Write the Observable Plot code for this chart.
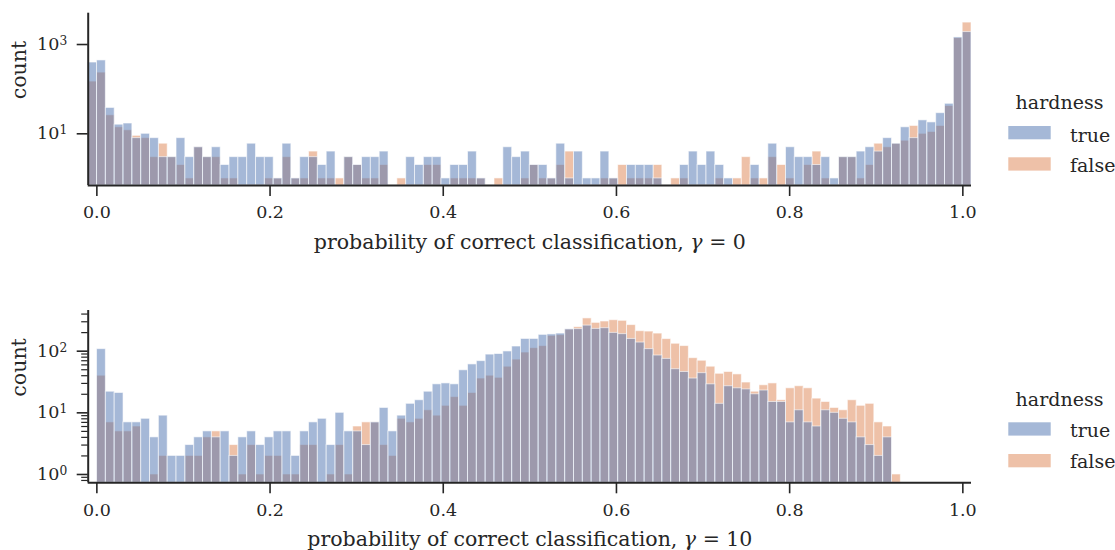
<!DOCTYPE html>
<html><head><meta charset="utf-8">
<script src="https://cdn.jsdelivr.net/npm/d3@7"></script>
<script src="https://cdn.jsdelivr.net/npm/@observablehq/plot@0.6"></script>
<style>
body{margin:0;background:#fff;}
#wrap{position:relative;width:1115px;height:550px;overflow:hidden;font-family:"DejaVu Serif",serif;color:#262626}
#wrap svg{position:absolute;overflow:visible}
</style></head><body><div id="wrap"></div>
<script>
// ---- data ----
const binStart = -0.01;     // left edge of first bin
const binWidth = 0.0102;    // 100 bins from -0.01 to 1.01
const hueLevels = ["true", "false"];
const hueColors = ["#4c72b0", "#dd8452"];

// gamma = 0 panel (counts per bin, 100 bins)
const topTrue = [395,440,38,16,17,8,10,8,3,3, 8,3,5,3,5,2,3,3,6,3, 3,1,6,1,3,3,2,4,0,3,
  2,3,3,4,0,0,3,2,3,3, 1,2,2,4,1,0,0,5,3,4, 2,2,1,6,1,4,1,1,4,1, 0,2,2,2,1,0,0,2,4,2,
  4,2,1,0,0,2,0,6,0,5, 3,3,2,3,1,3,3,4,5,4, 8,6,14,8,20,18,29,47,1440,1900];
const topFalse = [148,235,26,14,12,9,8,3,6,3, 2,1,5,3,3,1,1,0,0,0, 1,1,3,1,1,4,1,1,1,3,
  2,1,1,2,0,1,0,0,2,2, 0,1,1,1,1,0,1,0,0,1, 2,1,1,2,4,0,0,0,1,1, 2,1,1,1,2,0,1,1,0,0,
  0,1,0,1,3,1,1,3,2,1, 0,2,4,1,0,3,3,1,2,6, 5,6,7,15,10,11,15,42,1390,3100];

// gamma = 10 panel
const botTrue = [0,108,22,21,7,7,8,4,9,2, 2,3,4,5,4,5,2,4,5,3, 4,5,5,2,5,7,8,3,10,5,
  5,3,7,12,5,9,14,16,22,29, 30,29,49,61,69,88,90,99,119,158, 158,184,187,193,226,228,260,230,236,198,
  189,158,138,108,85,75,51,46,36,44, 29,14,27,25,24,20,23,15,15,7, 11,7,6,11,10,8,7,4,3,2,
  4,0,0,0,0,0,0,0,0,0];
const botFalse = [0,40,7,5,5,6,0,1,2,0, 0,2,2,4,5,0,3,1,3,1, 2,2,1,1,3,3,0,1,3,1,
  6,7,7,3,2,8,7,8,11,9, 13,18,13,21,36,40,37,56,73,95, 112,121,177,182,225,245,340,288,303,318,
  311,265,211,208,193,157,132,121,77,70, 56,43,46,42,31,22,28,30,16,25, 27,25,17,15,12,11,16,13,14,7,
  6,1,0,0,0,0,0,0,0,0];

const xTicks = [0, 0.2, 0.4, 0.6, 0.8, 1.0];
const topYTicks = [10, 1000];
const botYTicks = [1, 10, 100];
const botYMinor = [0.8, 0.9, 2, 3, 4, 5, 6, 7, 8, 9, 20, 30, 40, 50, 60, 70, 80, 90, 200, 300, 400];
const topXLabel = "probability of correct classification, γ = 0";
const botXLabel = "probability of correct classification, γ = 10";
const yLabel = "count";
const legendTitle = "hardness";

// ---- helpers ----
function binRows(counts, hue) {
  return counts.map((c, i) => ({x1: binStart + i * binWidth, x2: binStart + (i + 1) * binWidth, count: c, hue}))
               .filter(d => d.count > 0);
}
const INK = "#262626";
const FONT = '"DejaVu Serif", serif';
const TICK_FS = 17.5, LABEL_FS = 20.5, LEGEND_FS = 19;

function makePanel({tv, fv, yDomain, yTicks, yMinor, xLabel, top, height, marginTop, marginBottom}) {
  const ymin = yDomain[0];
  const xDomain = [binStart, binStart + 100 * binWidth];
  const marks = [
    Plot.rectY(binRows(fv, hueLevels[1]), {x1: "x1", x2: "x2", y1: ymin, y2: "count", fill: hueColors[1], fillOpacity: 0.5, stroke: "white", strokeOpacity: 0.6, strokeWidth: 1}),
    Plot.rectY(binRows(tv, hueLevels[0]), {x1: "x1", x2: "x2", y1: ymin, y2: "count", fill: hueColors[0], fillOpacity: 0.5, stroke: "white", strokeOpacity: 0.6, strokeWidth: 1}),
    Plot.ruleX([xDomain[0]], {stroke: INK, strokeWidth: 2}),
    Plot.ruleY([ymin], {stroke: INK, strokeWidth: 2}),
    Plot.axisX({ticks: xTicks, tickSize: 11, tickPadding: 9.5, tickFormat: d => d.toFixed(1), label: null, strokeWidth: 1.6, fontSize: TICK_FS}),
    Plot.axisY({ticks: yTicks, tickSize: 11, tickPadding: 10, tickFormat: d => "10^" + Math.round(Math.log10(d)), label: null, strokeWidth: 1.6, fontSize: TICK_FS}),
    Plot.text([xLabel], {frameAnchor: "bottom", dy: 63, fontSize: LABEL_FS, fill: INK}),
    Plot.text([yLabel], {frameAnchor: "left", rotate: -90, dx: -68.7, fontSize: LABEL_FS, fill: INK})
  ];
  if (yMinor) marks.push(Plot.axisY({ticks: yMinor, tickSize: 6.5, tickFormat: () => "", label: null, strokeWidth: 1.2}));
  const chart = Plot.plot({
    width: 985, height, marginLeft: 87.7, marginRight: 14, marginTop, marginBottom,
    x: {domain: xDomain},
    y: {type: "log", domain: yDomain},
    style: {fontFamily: FONT, fontSize: TICK_FS + "px", color: INK, background: "transparent", overflow: "visible"},
    marks
  });
  chart.style.left = "0px";
  chart.style.top = top + "px";
  document.getElementById("wrap").appendChild(chart);
  // superscripts on log tick labels, italic gamma in axis labels
  chart.querySelectorAll("text").forEach(t => {
    const s = t.textContent;
    const m = /^10\^(\-?\d+)$/.exec(s);
    if (m) {
      t.textContent = "";
      const a = document.createElementNS("http://www.w3.org/2000/svg", "tspan");
      a.textContent = "10";
      const b = document.createElementNS("http://www.w3.org/2000/svg", "tspan");
      b.textContent = m[1];
      b.setAttribute("dy", "-0.42em");
      b.setAttribute("font-size", "0.7em");
      t.appendChild(a); t.appendChild(b);
    } else if (s.includes("γ")) {
      const [pre, post] = s.split("γ");
      t.textContent = "";
      const a = document.createElementNS("http://www.w3.org/2000/svg", "tspan"); a.textContent = pre;
      const g = document.createElementNS("http://www.w3.org/2000/svg", "tspan"); g.textContent = "γ"; g.setAttribute("font-style", "italic");
      const c = document.createElementNS("http://www.w3.org/2000/svg", "tspan"); c.textContent = post;
      t.appendChild(a); t.appendChild(g); t.appendChild(c);
    }
  });
}

function makeLegend(titleBase, swatchTops, labelBases) {
  const svg = d3.select("#wrap").append("svg")
    .attr("width", 115).attr("height", 550)
    .style("left", "1000px").style("top", "0px");
  svg.append("text").attr("x", 59.5).attr("y", titleBase).attr("text-anchor", "middle")
    .attr("font-family", FONT).attr("font-size", LEGEND_FS).attr("fill", INK).text(legendTitle);
  hueLevels.forEach((h, i) => {
    svg.append("rect").attr("x", 8.3).attr("y", swatchTops[i]).attr("width", 42.4).attr("height", 13.3)
      .attr("fill", hueColors[i]).attr("fill-opacity", 0.5);
    svg.append("text").attr("x", 70).attr("y", labelBases[i])
      .attr("font-family", FONT).attr("font-size", LEGEND_FS).attr("fill", INK).text(h);
  });
}

makePanel({tv: topTrue, fv: topFalse, yDomain: [0.695, 5030], yTicks: topYTicks, yMinor: null,
  xLabel: topXLabel, top: 0, height: 265, marginTop: 12.7, marginBottom: 80});
makePanel({tv: botTrue, fv: botFalse, yDomain: [0.733, 457], yTicks: botYTicks, yMinor: botYMinor,
  xLabel: botXLabel, top: 290, height: 260, marginTop: 20, marginBottom: 67.7});
makeLegend(108.7, [126, 157.3], [141.7, 172.3]);
makeLegend(406, [422.3, 454], [437.3, 468.3]);
</script></body></html>
